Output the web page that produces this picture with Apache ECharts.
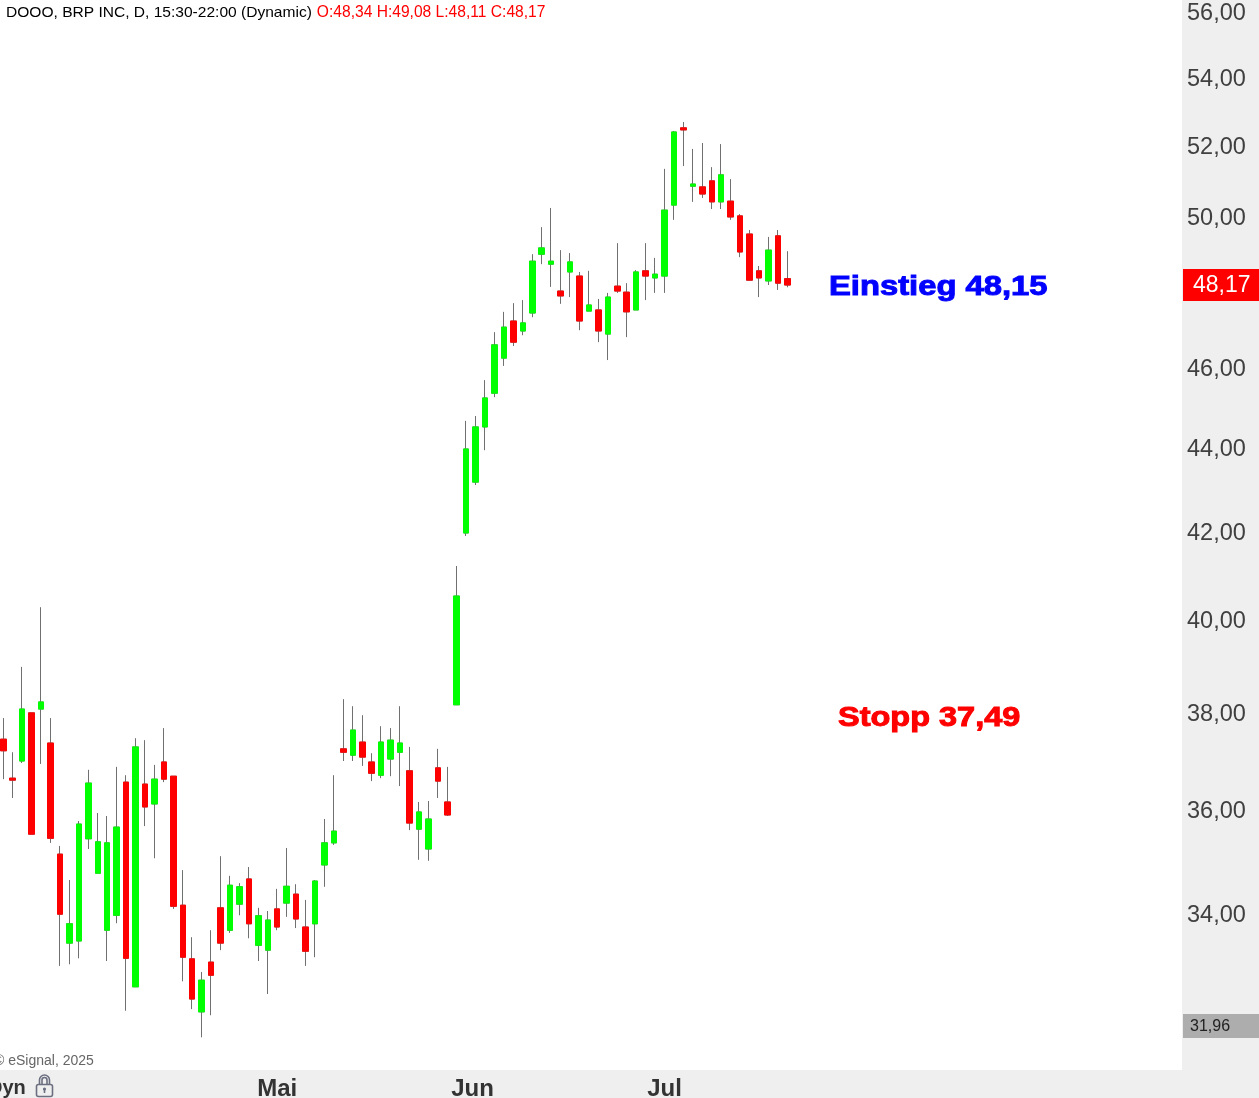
<!DOCTYPE html>
<html><head><meta charset="utf-8"><style>html,body{margin:0;padding:0;background:#fff}#c{width:1259px;height:1098px}</style>
<script src="https://cdn.jsdelivr.net/npm/echarts@6/dist/echarts.min.js"></script></head>
<body><div id="c"></div>
<script>
const opens=[37.46,36.66,37.01,38.01,38.09,37.38,35.15,33.46,33.50,35.45,34.78,33.70,33.98,36.58,
32.66,36.54,36.14,36.99,36.70,34.17,33.17,32.21,33.11,34.12,33.70,34.19,34.67,33.42,
33.33,34.10,34.21,34.38,33.76,33.82,34.94,35.37,37.26,37.13,37.40,36.99,36.72,37.05,
37.19,36.81,35.64,35.25,36.87,36.18,38.18,41.99,43.19,44.53,45.37,46.26,47.22,46.96,
47.43,49.00,48.73,48.01,48.52,48.41,47.48,47.51,46.88,48.14,47.98,47.51,48.55,48.36,
48.41,50.35,52.55,50.88,50.86,51.03,50.44,50.46,50.05,49.55,48.55,48.28,49.50,48.34];
const closes=[37.22,36.62,38.09,35.54,38.24,35.46,34.00,33.82,35.74,36.56,35.39,35.37,35.68,33.18,
37.30,36.08,36.64,36.64,34.15,33.20,32.44,32.78,32.87,33.46,34.55,34.52,33.82,33.97,
33.89,33.76,34.53,33.91,33.31,34.63,35.37,35.60,37.19,37.65,37.09,36.76,37.40,37.44,
37.38,35.76,35.98,35.84,36.60,35.92,40.55,43.99,44.53,45.25,46.60,47.06,46.67,47.17,
48.81,49.17,48.81,47.88,48.79,47.22,47.64,46.96,47.85,48.01,47.46,48.52,48.41,48.46,
50.21,52.43,52.49,50.94,50.66,50.44,51.20,50.02,49.06,48.30,48.36,49.11,48.22,48.17];
const highs=[37.90,37.19,38.99,38.01,40.30,37.90,35.31,34.65,35.80,36.83,35.96,35.90,36.89,36.72,
37.48,37.44,36.93,37.69,36.70,34.84,33.57,32.93,33.70,35.11,34.73,34.59,34.90,34.12,
34.06,34.48,35.27,34.57,34.27,34.65,35.84,36.72,38.30,38.15,37.96,37.17,37.73,37.69,
38.15,37.30,36.18,36.20,37.26,36.89,41.23,44.68,44.80,45.70,46.93,47.46,47.69,47.77,
49.00,49.74,50.27,49.11,49.03,48.52,48.55,47.80,47.96,49.30,48.22,48.57,49.30,48.90,
51.37,52.46,52.72,51.94,52.11,51.42,52.08,51.08,50.10,49.66,48.68,49.47,49.66,49.08];
const lows=[36.64,36.26,36.97,35.54,36.95,35.37,33.04,33.07,33.18,35.25,34.78,33.13,33.83,32.23,
32.66,35.70,35.07,36.58,34.10,32.76,32.26,31.76,32.15,33.33,33.65,33.98,33.55,33.13,
32.53,33.70,33.95,33.74,33.04,33.20,34.52,35.33,37.01,37.01,36.91,36.60,36.66,36.70,
36.50,35.62,35.04,35.02,36.26,35.90,38.18,41.92,43.12,43.96,45.27,46.06,46.57,46.85,
47.32,48.73,48.12,47.67,47.85,46.98,47.48,46.67,46.21,47.96,46.80,47.51,47.77,47.96,
47.96,49.94,51.45,50.44,50.55,50.24,50.24,49.94,48.92,48.30,47.85,48.17,48.04,48.11];
const monthTicks={29:'Mai',50:'Jun',70:'Jul'};
const slotCount=125;
const categories=Array.from({length:slotCount},(_,i)=>monthTicks[i]||'');
const priceTicks=[34,36,38,40,42,44,46,50,52,54,56];
const lastPrice=48.17, lowPrice=31.96;
const headerName='DOOO, BRP INC, D, 15:30-22:00 (Dynamic)';
const headerOhlc='O:48,34 H:49,08 L:48,11 C:48,17';
const noteEntry='Einstieg 48,15', noteStop='Stopp 37,49';

const FF="'Liberation Sans',Arial,sans-serif";
const comma=v=>Number(v).toFixed(2).replace('.',',');
const wickData=opens.map((o,i)=>[o,closes[i],lows[i],highs[i]]);
const bodyData=opens.map((o,i)=>[o,closes[i],Math.min(o,closes[i]),Math.max(o,closes[i])]);
const GREEN='#00ff00',RED='#ff0000',WICK='#707070',PANEL='#efefef',LOCK='#6c6f80';
const lockLine={fill:'none',stroke:LOCK,lineWidth:1.6};

const chart=echarts.init(document.getElementById('c'),null,{renderer:'canvas'});
chart.setOption({
 animation:false,backgroundColor:'#ffffff',
 title:{left:6,top:4,padding:0,text:'{a|'+headerName+'} {b|'+headerOhlc+'}',
  textStyle:{fontWeight:'normal',rich:{a:{color:'#000',fontSize:15.55,fontWeight:'normal',fontFamily:FF},b:{color:'#ff0000',fontSize:15.6,fontWeight:'normal',fontFamily:FF}}}},
 grid:{left:-1.42,top:0,width:1180.75,height:1070,containLabel:false,outerBoundsMode:'none'},
 xAxis:{type:'category',data:categories,boundaryGap:true,
  axisLine:{show:false},axisTick:{show:false},splitLine:{show:false},
  axisLabel:{interval:0,margin:7,color:'#333',fontWeight:'bold',fontSize:24,fontFamily:FF,hideOverlap:false,
   formatter:v=>v==='Jun'?'{shift|Jun}':v,
   rich:{shift:{color:'#333',fontWeight:'bold',fontSize:24,fontFamily:FF,padding:[0,6,0,0]}}}},
 yAxis:{type:'log',logBase:10,position:'right',min:31.19,max:56.405,
  axisLine:{show:false},axisTick:{show:false},splitLine:{show:false},minorTick:{show:false},
  axisLabel:{margin:3.67,align:'left',fontFamily:FF,customValues:[lowPrice,...priceTicks,lastPrice],
   showMinLabel:true,showMaxLabel:true,hideOverlap:false,
   formatter:v=>{const t=comma(v);
     if(Math.abs(v-lastPrice)<1e-6)return '{cur|'+t+'}';
     if(Math.abs(v-lowPrice)<1e-6)return '{low|'+t+'}';
     return '{tick|'+t+'}';},
   rich:{
    tick:{color:'#404040',fontSize:23.5,fontFamily:FF,padding:[2,0,0,4]},
    cur:{color:'#fff',backgroundColor:'#ff0000',fontSize:23,fontFamily:FF,height:30,lineHeight:30,width:66,padding:[2,0,0,10]},
    low:{color:'#222',backgroundColor:'#adadad',fontSize:16,fontFamily:FF,height:22,lineHeight:22,width:69,padding:[2,0,0,7]}
   }}},
 series:[
  {type:'candlestick',name:'wick',data:wickData,barWidth:6,z:2,silent:true,clip:false,
   itemStyle:{color:WICK,color0:WICK,borderColor:WICK,borderColor0:WICK,borderWidth:1}},
  {type:'candlestick',name:'body',data:bodyData,barWidth:6,z:3,silent:true,clip:false,
   itemStyle:{color:GREEN,color0:RED,borderColor:GREEN,borderColor0:RED,borderWidth:1}}
 ],
 graphic:{elements:[
  {type:'rect',silent:true,z:-1,shape:{x:1182,y:0,width:77,height:1098},style:{fill:PANEL}},
  {type:'rect',silent:true,z:-1,shape:{x:0,y:1070,width:1259,height:28},style:{fill:PANEL}},
  {type:'text',silent:true,z:5,x:829,y:287,scaleX:1.17,style:{text:noteEntry,fill:'#0000ff',stroke:'#0000ff',lineWidth:1,font:'bold 28px '+FF,verticalAlign:'middle'}},
  {type:'text',silent:true,z:5,x:838,y:718,scaleX:1.16,style:{text:noteStop,fill:'#ff0000',stroke:'#ff0000',lineWidth:1,font:'bold 28px '+FF,verticalAlign:'middle'}},
  {type:'text',silent:true,z:5,x:-6,y:1061,style:{text:'© eSignal, 2025',fill:'#666',font:'14px '+FF,verticalAlign:'middle'}},
  {type:'text',silent:true,z:5,x:-12,y:1088,style:{text:'Dyn',fill:'#333',font:'bold 20px '+FF,verticalAlign:'middle'}},
  {type:'rect',silent:true,z:5,shape:{x:36.5,y:1084.5,width:16,height:12,r:2},style:lockLine},
  {type:'arc',silent:true,z:5,shape:{cx:44.5,cy:1080,r:5,startAngle:Math.PI,endAngle:2*Math.PI,clockwise:true},style:lockLine},
  {type:'arc',silent:true,z:5,shape:{cx:44.5,cy:1080,r:2.5,startAngle:Math.PI,endAngle:2*Math.PI,clockwise:true},style:lockLine},
  {type:'line',silent:true,z:5,shape:{x1:39.5,y1:1080,x2:39.5,y2:1084},style:lockLine},
  {type:'line',silent:true,z:5,shape:{x1:49.5,y1:1080,x2:49.5,y2:1084},style:lockLine},
  {type:'line',silent:true,z:5,shape:{x1:42,y1:1080,x2:42,y2:1084},style:lockLine},
  {type:'line',silent:true,z:5,shape:{x1:47,y1:1080,x2:47,y2:1084},style:lockLine},
  {type:'line',silent:true,z:5,shape:{x1:44.5,y1:1090,x2:44.5,y2:1093},style:lockLine},
  {type:'circle',silent:true,z:5,shape:{cx:44.5,cy:1089,r:1.6},style:{fill:LOCK}}
 ]}
});
</script></body></html>
